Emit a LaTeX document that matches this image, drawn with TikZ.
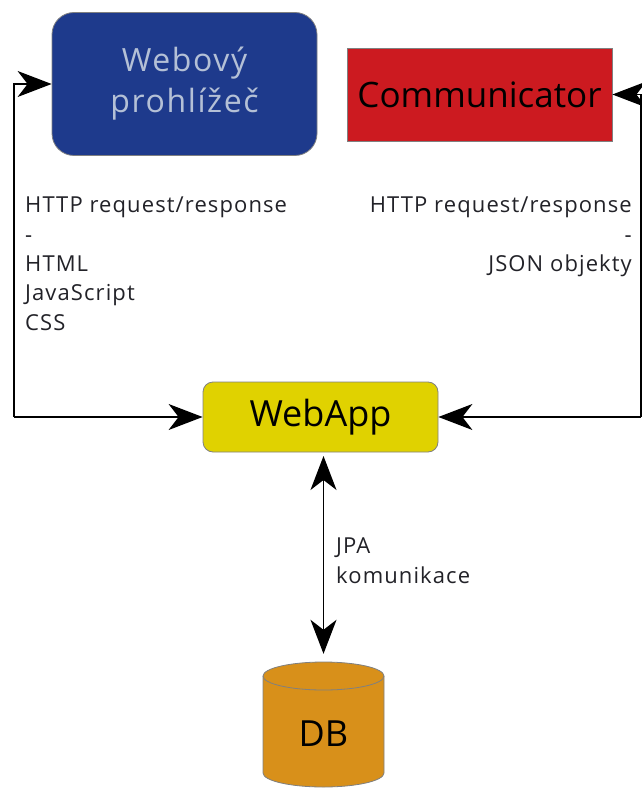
\documentclass[tikz,border=0pt]{standalone}
\usepackage{fontspec}
\setmainfont{Open Sans}
\newfontfamily\spacedfont[LetterSpace=5]{Open Sans}
\usetikzlibrary{arrows.meta}
\definecolor{browserblue}{HTML}{1E3A8C}
\definecolor{browsertext}{HTML}{B4C0D6}
\definecolor{commred}{HTML}{CC1A20}
\definecolor{appyellow}{HTML}{E0D200}
\definecolor{dborange}{HTML}{D8901A}
\definecolor{edgegray}{HTML}{808080}
\definecolor{labelgray}{HTML}{222228}
\begin{document}
\begin{tikzpicture}[x=1pt,y=-1pt,
  box/.style={draw=edgegray,line width=0.8pt,inner sep=0pt},
  browserbox/.style={box,fill=browserblue,text=browsertext,rounded corners=22pt,
    minimum width=265pt,minimum height=143pt,align=center,
    font=\spacedfont\fontsize{32}{41}\selectfont},
  commbox/.style={box,fill=commred,text=black,minimum width=265pt,minimum height=93pt,
    font=\fontsize{35}{40}\selectfont},
  appbox/.style={box,fill=appyellow,text=black,rounded corners=10pt,
    minimum width=235pt,minimum height=70pt,font=\fontsize{36}{40}\selectfont},
  dbnode/.style={inner sep=0pt,minimum width=121pt,minimum height=125pt,
    text height=43pt,text depth=0pt,font=\fontsize{36}{40}\selectfont},
  lbl/.style={inner sep=0pt,text=labelgray,font=\spacedfont\fontsize{22}{29.3}\selectfont},
  conn/.style={line width=1.3pt,-{Stealth[length=34pt,width=26pt,inset=10pt]}},
  biconn/.style={line width=1.3pt,{Stealth[length=34pt,width=26pt,inset=10pt]}-{Stealth[length=34pt,width=26pt,inset=10pt]}}
]
\useasboundingbox (0,0) rectangle (641,791);

% main components
\node[browserbox] (web) at (184.5,84) {Webový\\prohlížeč};
\node[commbox] (comm) at (479.5,94.5) {Communicator};
\node[appbox] (app) at (320.5,417) {WebApp};

% database cylinder
\coordinate (dbc) at (323.5,724.5);
\path[fill=dborange,draw=edgegray,line width=0.8pt]
  ([xshift=-60.5pt,yshift=48.5pt]dbc)
  -- ([xshift=-60.5pt,yshift=-48.5pt]dbc)
  arc[start angle=180,end angle=360,x radius=60.5pt,y radius=14pt]
  -- ([xshift=60.5pt,yshift=48.5pt]dbc)
  arc[start angle=0,end angle=180,x radius=60.5pt,y radius=14pt]
  -- cycle;
\draw[edgegray,line width=0.8pt] ([xshift=-60.5pt,yshift=48.5pt]dbc)
  arc[start angle=180,end angle=360,x radius=60.5pt,y radius=14pt];
\node[dbnode] (db) at (dbc) {DB};

% connection corners
\coordinate (lc) at (14,417);
\coordinate (rc) at (641,417);

% connectors
\draw[conn] (lc) |- (web.west);
\draw[conn] (lc) -- (app.west);
\draw[conn] (rc) |- (comm.east);
\draw[conn] (rc) -- (app.east);
\draw[biconn,shorten <=4pt,shorten >=8pt] (323.5,452) -- (db.north);

% labels
\node[lbl,anchor=north west,align=left] (lblweb) at (25,197)
  {HTTP request/response\\-\\HTML\\JavaScript\\CSS};
\node[lbl,anchor=north east,align=right] (lblcomm) at (632,197)
  {HTTP request/response\\-\\JSON objekty};
\node[lbl,anchor=north west,align=left] (lbljpa) at (336,538)
  {JPA\\komunikace};
\end{tikzpicture}
\end{document}
